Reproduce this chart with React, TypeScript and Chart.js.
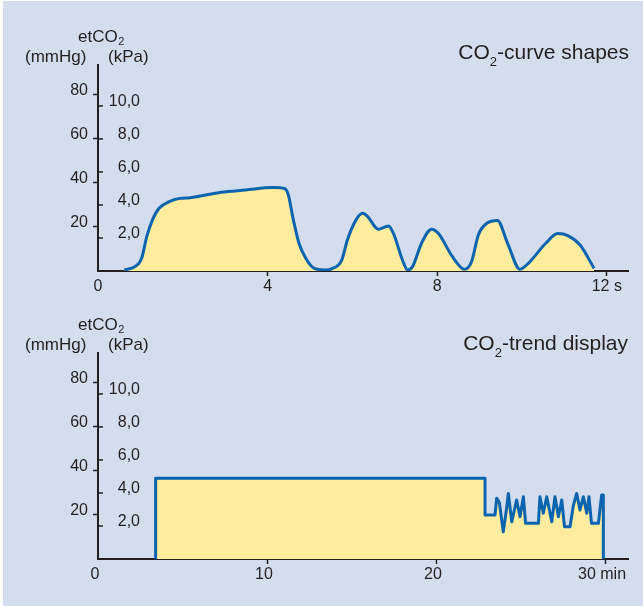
import React, { useEffect, useRef } from 'react';
import { Chart, registerables } from 'chart.js';

Chart.register(...registerables);

// ---------- data ----------
const curveTimes = [0.62, 0.87, 1.03, 1.15, 1.28, 1.44, 1.68, 1.93, 2.17, 2.91, 3.48, 4.13, 4.41, 4.49, 4.61, 4.74, 4.9, 5.1, 5.35, 5.51, 5.75, 5.88, 6.08, 6.24, 6.36, 6.61, 6.85, 6.97, 7.18, 7.3, 7.42, 7.63, 7.87, 8.03, 8.36, 8.64, 8.81, 8.97, 9.17, 9.42, 9.66, 9.95, 10.15, 10.56, 10.84, 11.09, 11.37, 11.7];
const curveValues = [0.5, 2, 5.8, 15.6, 23, 28.5, 31.5, 33, 33.3, 35.8, 36.8, 37.9, 37.4, 34.5, 23, 12.6, 5.8, 1.2, 0.5, 1, 5, 14, 23, 26.2, 24.7, 19, 20.5, 17, 5, 0.5, 2, 12.6, 19, 17, 6.5, 0.8, 4.2, 16.4, 21.7, 23, 12.6, 0.8, 3.5, 12.6, 17, 16, 11.8, 1.2];
const curveXTicks = [0, 4, 8, 12];
const curveXLabels = ['0', '4', '8', '12 s'];

const trendTimes = [3.41, 3.41, 22.9, 22.9, 23.49, 23.59, 23.75, 23.98, 24.16, 24.28, 24.48, 24.77, 24.97, 25.17, 25.3, 26.06, 26.15, 26.35, 26.55, 26.85, 27.04, 27.24, 27.44, 27.6, 27.93, 28.12, 28.32, 28.52, 28.72, 28.92, 29.05, 29.2, 29.61, 29.8, 29.9, 29.9];
const trendValues = [0, 36.7, 36.7, 20, 20, 27.6, 25.5, 12.4, 22, 29.8, 16.9, 26.8, 19.2, 28.3, 16.2, 16.2, 28.3, 20.8, 28.3, 16.9, 28.3, 19.2, 26.8, 14.7, 14.7, 24, 29.8, 22.3, 28.3, 20.8, 28.3, 16.2, 16.2, 29.1, 29.1, 0];
const trendXTicks = [0, 10, 20, 30];
const trendXLabels = ['0', '10', '20', '30 min'];

const mmHgTicks = [20, 40, 60, 80];
const kPaTicks = [2, 4, 6, 8, 10];
const mmHgPerKPa = 7.5;

const curveTitle = ['CO', '2', '-curve shapes'];
const trendTitle = ['CO', '2', '-trend display'];
const yTitle = ['etCO', '2'];
const mmHgUnit = '(mmHg)';
const kPaUnit = '(kPa)';

// ---------- style ----------
const INK = '#231F20';
const BLUE = '#0A64AE';
const FILL = '#FFED9F';
const BG = '#D4DDEE';
const FAMILY = '"Liberation Sans", Arial, Helvetica, sans-serif';

const decorPlugin = {
  id: 'decor',
  afterDraw(chart: any, _args: any, opts: any) {
    const ctx = chart.ctx as CanvasRenderingContext2D;
    const y = chart.scales.y;
    const area = chart.chartArea;
    ctx.save();
    ctx.fillStyle = INK;
    ctx.strokeStyle = INK;
    ctx.lineWidth = 1.5;
    // kPa ticks (inside, right of the axis)
    ctx.font = `16px ${FAMILY}`;
    ctx.textAlign = 'right';
    ctx.textBaseline = 'middle';
    kPaTicks.forEach((k) => {
      const py = y.getPixelForValue(k * mmHgPerKPa);
      ctx.beginPath();
      ctx.moveTo(area.left, py);
      ctx.lineTo(area.left + 5, py);
      ctx.stroke();
      ctx.fillText(k.toFixed(1).replace('.', ','), area.left + 42, py - 4);
    });
    // axis titles
    ctx.textAlign = 'left';
    ctx.textBaseline = 'alphabetic';
    ctx.font = `17px ${FAMILY}`;
    const etBase = area.top - 23.5;
    ctx.fillText(yTitle[0], 78, etBase);
    const w0 = ctx.measureText(yTitle[0]).width;
    ctx.font = `11px ${FAMILY}`;
    ctx.fillText(yTitle[1], 78 + w0 + 0.5, etBase + 3.5);
    ctx.font = `17px ${FAMILY}`;
    const unitBase = area.top - 3.5;
    ctx.fillText(mmHgUnit, 25, unitBase);
    ctx.fillText(kPaUnit, 108, unitBase);
    // chart title
    const t = opts.title as string[];
    ctx.font = `21px ${FAMILY}`;
    const a = ctx.measureText(t[0]).width;
    const c = ctx.measureText(t[2]).width;
    ctx.font = `13px ${FAMILY}`;
    const b = ctx.measureText(t[1]).width;
    const right = opts.titleRight;
    const start = right - (a + b + c);
    const base = opts.titleBaseline;
    ctx.font = `21px ${FAMILY}`;
    ctx.fillText(t[0], start, base);
    ctx.fillText(t[2], start + a + b, base);
    ctx.font = `13px ${FAMILY}`;
    ctx.fillText(t[1], start + a, base + 7);
    ctx.restore();
  },
};

type Props = {
  times: number[];
  values: number[];
  xTicks: number[];
  xLabels: string[];
  xMax: number;
  tension: number;
  title: string[];
  titleBaseline: number;
  titleRight: number;
  top: number;
  labelOffset: number;
};

function EtCO2Chart(p: Props) {
  const ref = useRef<HTMLCanvasElement>(null);
  useEffect(() => {
    const data = p.times.map((x, i) => ({ x, y: p.values[i] }));
    const chart = new Chart(ref.current!, {
      type: 'line',
      data: {
        datasets: [
          {
            data,
            borderColor: BLUE,
            borderWidth: 3,
            backgroundColor: FILL,
            fill: 'origin',
            pointRadius: 0,
            tension: p.tension,
            cubicInterpolationMode: p.tension > 0 ? 'monotone' : 'default',
            borderJoinStyle: 'round',
            borderCapStyle: 'butt',
          } as any,
        ],
      },
      plugins: [decorPlugin],
      options: {
        animation: false,
        responsive: false,
        events: [],
        layout: { padding: { left: 0, top: 65, right: 15, bottom: 0 } },
        plugins: {
          legend: { display: false },
          tooltip: { enabled: false },
          decor: { title: p.title, titleBaseline: p.titleBaseline, titleRight: p.titleRight },
        } as any,
        scales: {
          x: {
            type: 'linear',
            min: 0,
            max: p.xMax,
            z: 1,
            afterBuildTicks: (s: any) => {
              s.ticks = p.xTicks.map((v) => ({ value: v }));
            },
            afterFit: (s: any) => {
              s.height = 29;
            },
            grid: {
              drawOnChartArea: false,
              drawTicks: true,
              tickLength: 5,
              tickWidth: 1.5,
              tickColor: (c: any) => (c.tick && c.tick.value === 0 ? 'rgba(0,0,0,0)' : INK),
            },
            border: { color: INK, width: 2 },
            ticks: {
              color: INK,
              font: { size: 16, family: FAMILY },
              padding: 1,
              maxRotation: 0,
              autoSkip: false,
              labelOffset: p.labelOffset,
              callback: (v: any) => {
                const i = p.xTicks.indexOf(Number(v));
                return i >= 0 ? p.xLabels[i] : '';
              },
            },
          },
          y: {
            type: 'linear',
            min: 0,
            max: 93.6,
            z: 1,
            afterBuildTicks: (s: any) => {
              s.ticks = mmHgTicks.map((v) => ({ value: v }));
            },
            afterFit: (s: any) => {
              s.width = 98;
            },
            grid: { drawOnChartArea: false, tickLength: 5, tickWidth: 1.5, tickColor: INK },
            border: { color: INK, width: 2 },
            ticks: {
              color: INK,
              font: { size: 16, family: FAMILY },
              padding: 5,
              labelOffset: -4,
            },
          },
        },
      } as any,
    });
    return () => chart.destroy();
  }, []);
  return (
    <canvas
      ref={ref}
      width={643}
      height={300}
      style={{ position: 'absolute', left: 0, top: p.top, width: 643, height: 300 }}
    />
  );
}

export default function App() {
  return (
    <div style={{ position: 'fixed', left: 0, top: 0, width: 643, height: 607, background: '#FFFFFF' }}>
      <div style={{ position: 'absolute', left: 3, top: 1, width: 640, height: 605, background: BG }} />
      <EtCO2Chart
        times={curveTimes}
        values={curveValues}
        xTicks={curveXTicks}
        xLabels={curveXLabels}
        xMax={12.5}
        tension={0.4}
        title={curveTitle}
        titleBaseline={58.5}
        titleRight={629}
        top={0}
        labelOffset={0}
      />
      <EtCO2Chart
        times={trendTimes}
        values={trendValues}
        xTicks={trendXTicks}
        xLabels={trendXLabels}
        xMax={31.36}
        tension={0}
        title={trendTitle}
        titleBaseline={61.5}
        titleRight={628}
        top={288}
        labelOffset={-3}
      />
    </div>
  );
}
